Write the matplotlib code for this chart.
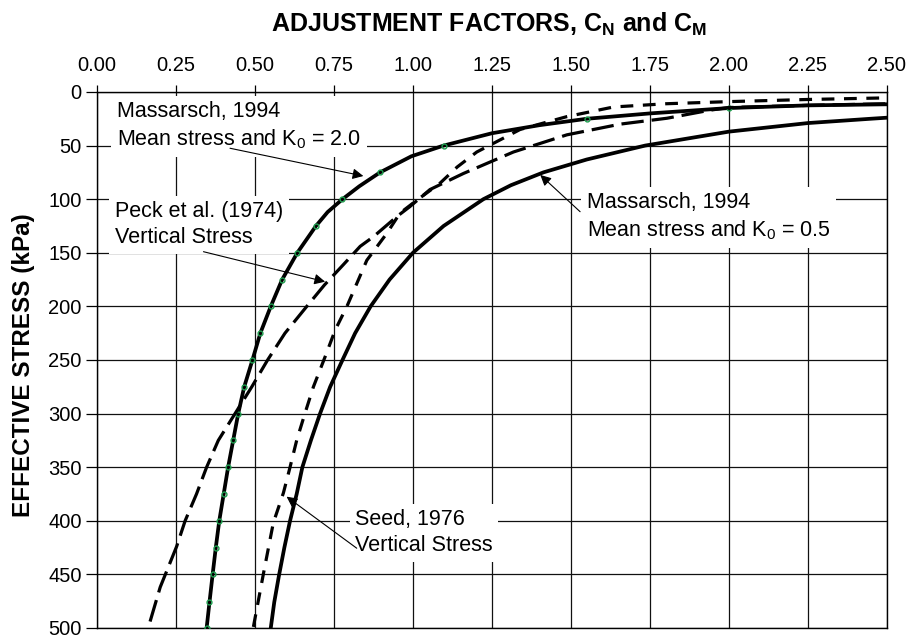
import matplotlib
matplotlib.use("Agg")
import matplotlib.pyplot as plt

plt.rcParams['font.family'] = ['Liberation Sans', 'DejaVu Sans']
plt.rcParams['mathtext.fontset'] = 'custom'
plt.rcParams['mathtext.rm'] = 'Liberation Sans'
plt.rcParams['mathtext.bf'] = 'Liberation Sans:bold'

# Massarsch 1994, mean stress, K0 = 2.0  (factor, stress kPa)
mas20_c = [0.347, 0.356, 0.366, 0.376, 0.387, 0.401, 0.415, 0.431, 0.447, 0.466, 0.492,
           0.517, 0.550, 0.586, 0.634, 0.693, 0.730, 0.777, 0.830, 0.896, 0.995, 1.097,
           1.250, 1.400, 1.550, 1.750, 2.000, 2.250, 2.500]
mas20_s = [500, 476, 450, 425, 400, 375, 350, 325, 300, 275, 250,
           225, 200, 175, 150, 125, 112, 100, 88, 75, 60, 50,
           38.5, 31, 25, 20, 15, 12.5, 11.5]
mas20_marks = [0, 1, 2, 3, 4, 5, 6, 7, 8, 9, 10, 11, 12, 13, 14, 15, 17, 19, 21, 24, 26]

# Massarsch 1994, mean stress, K0 = 0.5
mas05_c = [0.550, 0.561, 0.576, 0.593, 0.611, 0.632, 0.650, 0.677, 0.706, 0.738, 0.777,
           0.817, 0.866, 0.926, 1.000, 1.097, 1.223, 1.310, 1.413, 1.550, 1.735, 2.000,
           2.250, 2.448, 2.500]
mas05_s = [500, 476, 451, 425, 400, 375, 350, 325, 300, 275, 250,
           225, 200, 175, 150, 125, 100, 87, 75, 63, 50, 37,
           29, 25, 24]

# Peck et al. (1974), vertical stress
peck_c = [0.168, 0.200, 0.252, 0.279, 0.315, 0.347, 0.384, 0.437, 0.490, 0.540, 0.595,
          0.664, 0.720, 0.780, 0.833, 0.875, 0.950, 0.990, 1.054, 1.160, 1.318, 1.487,
          1.656, 1.804, 1.940, 2.000, 2.250, 2.500]
peck_s = [494, 462, 424, 400, 375, 350, 325, 300, 275, 250, 225,
          200, 180, 161, 144, 135, 116, 107, 91, 76, 56, 40,
          30, 24.5, 17, 14.5, 12.5, 11]

# Seed (1976), vertical stress
seed_c = [0.495, 0.527, 0.558, 0.590, 0.611, 0.632, 0.658, 0.685, 0.722, 0.754, 0.791,
          0.854, 0.917, 0.959, 1.012, 1.086, 1.140, 1.202, 1.339, 1.487, 1.635, 1.800,
          2.000, 2.250, 2.500]
seed_s = [499, 449, 402, 374, 350, 325, 300, 275, 247, 222, 200,
          157, 132, 113, 101, 85, 70, 56, 35, 23, 14, 11,
          9, 7, 5.5]

xticks = [0.0, 0.25, 0.5, 0.75, 1.0, 1.25, 1.5, 1.75, 2.0, 2.25, 2.5]
yticks = [0, 50, 100, 150, 200, 250, 300, 350, 400, 450, 500]

fig = plt.figure(figsize=(9.09, 6.4), dpi=100)
ax = fig.add_axes([0.1067, 0.0188, 0.869, 0.8375])

ax.plot(mas20_c, mas20_s, color='k', lw=2.7, zorder=3, solid_joinstyle='round',
        marker='o', markevery=mas20_marks, ms=3.5, mfc='none', mec='#1f9e4f', mew=1.0)
ax.plot(mas05_c, mas05_s, color='k', lw=2.7, zorder=3, solid_joinstyle='round')
ax.plot(peck_c, peck_s, color='k', lw=2.3, zorder=3, dashes=(7, 2.5))
ax.plot(seed_c, seed_s, color='k', lw=2.3, zorder=3, dashes=(4, 3))

ax.set_xlim(0, 2.5)
ax.set_ylim(500, 0)
ax.set_xticks(xticks)
ax.set_xticklabels([f"{v:.2f}" for v in xticks])
ax.set_yticks(yticks)
ax.xaxis.tick_top()
ax.tick_params(axis='x', length=5, width=0.9, pad=7, labelsize=14.5)
ax.tick_params(axis='y', length=8, width=0.9, pad=3, labelsize=14.5)
ax.grid(True, color='#111111', lw=0.9)
ax.set_axisbelow(True)
for sp in ax.spines.values():
    sp.set_linewidth(1.0)

fig.text(0.538, 0.962, r"ADJUSTMENT FACTORS, $\mathbf{C_N}$ and $\mathbf{C_M}$",
         ha='center', va='center', fontsize=18, fontweight='bold')
fig.text(0.026, 0.43, "EFFECTIVE STRESS (kPa)", rotation=90,
         ha='center', va='center', fontsize=17.5, fontweight='bold')

box = dict(facecolor='white', edgecolor='none', pad=4)
arr = dict(arrowstyle='-|>', lw=0.8, color='k', mutation_scale=16, shrinkA=0, shrinkB=0)

ax.text(0.063, 31.7, "Massarsch, 1994\nMean stress and K$_\\mathregular{0}$ = 2.0",
        ha='left', va='center', fontsize=15.5, linespacing=1.3, bbox=box, zorder=2.5)
ax.annotate('', xy=(0.843, 78.4), xytext=(0.421, 52.5), arrowprops=arr, zorder=4)

ax.text(0.057, 124, "Peck et al. (1974)\nVertical Stress",
        ha='left', va='center', fontsize=15.5, linespacing=1.3, bbox=box, zorder=2.5)
ax.annotate('', xy=(0.722, 177), xytext=(0.337, 149), arrowprops=arr, zorder=4)

ax.text(1.55, 117, "Massarsch, 1994\nMean stress and K$_\\mathregular{0}$ = 0.5",
        ha='left', va='center', fontsize=15.5, linespacing=1.3, bbox=box, zorder=2.5)
ax.annotate('', xy=(1.403, 77.4), xytext=(1.529, 111.7), arrowprops=arr, zorder=4)

ax.text(0.817, 411, "Seed, 1976\nVertical Stress",
        ha='left', va='center', fontsize=15.5, linespacing=1.3, bbox=box, zorder=2.5)
ax.annotate('', xy=(0.60, 377.5), xytext=(0.822, 425.6), arrowprops=arr, zorder=4)

fig.savefig("out.png", dpi=100)
